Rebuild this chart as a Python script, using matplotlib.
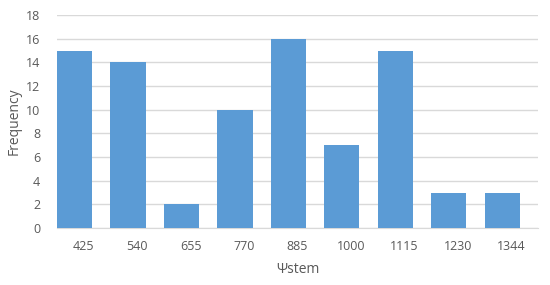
import matplotlib
matplotlib.use("Agg")
import matplotlib.pyplot as plt

categories = ["425", "540", "655", "770", "885", "1000", "1115", "1230", "1344"]
frequency = [15, 14, 2, 10, 16, 7, 15, 3, 3]
y_ticks = [0, 2, 4, 6, 8, 10, 12, 14, 16, 18]

plt.rcParams['font.family'] = ['Open Sans', 'DejaVu Sans']
fig = plt.figure(figsize=(5.5, 2.85), dpi=100)
ax = fig.add_axes([57 / 550, 1 - 228 / 285, 481 / 550, 213 / 285])
x = list(range(len(categories)))
ax.bar([v - 0.5 for v in x], frequency, width=0.66, align="edge", color="#5B9BD5", zorder=3)
ax.set_xlim(-0.5, len(categories) - 0.5)
ax.set_ylim(0, 18)
ax.set_yticks(y_ticks)
ax.set_xticks(x)
ax.set_xticklabels(categories)
ax.grid(axis="y", color="#D9D9D9", linewidth=1, zorder=0)
for s in ["top", "right", "left"]:
    ax.spines[s].set_visible(False)
ax.spines["bottom"].set_color("#D9D9D9")
ax.tick_params(axis="both", length=0, colors="#595959", labelsize=9)
ax.tick_params(axis="x", pad=9)
ax.tick_params(axis="y", pad=12)
ax.set_xlabel("Ψstem", fontsize=10, color="#595959", labelpad=6)
ax.set_ylabel("Frequency", fontsize=10, color="#595959", labelpad=3)
fig.savefig("out.png", dpi=100)
